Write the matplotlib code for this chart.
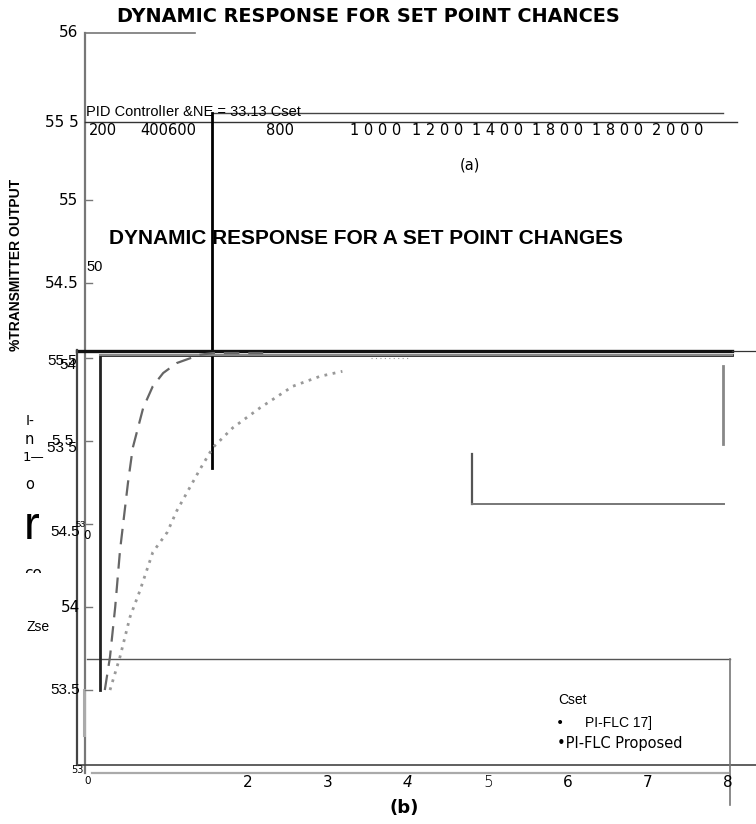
import numpy as np
import matplotlib.pyplot as plt
import matplotlib.transforms as mtransforms

# responses
cset_t = [0.15, 0.15, 8.05]
cset_y = [53.5, 55.52, 55.52]
flc17_t = [0.21, 0.275, 0.34, 0.40, 0.50, 0.56, 0.69, 0.81, 0.94, 1.11, 1.40, 1.56, 2.19]
flc17_y = [53.5, 53.70, 54.0, 54.34, 54.75, 54.96, 55.20, 55.33, 55.41, 55.47, 55.52, 55.53, 55.53]
prop_t = [0.275, 0.40, 0.525, 0.65, 0.81, 0.99, 1.11, 1.40, 1.56, 1.81, 2.15, 2.56, 2.90, 3.18]
prop_y = [53.5, 53.70, 53.94, 54.10, 54.33, 54.45, 54.58, 54.83, 54.96, 55.08, 55.20, 55.33, 55.39, 55.42]
tail_t = [3.54, 4.0]
tail_y = [55.50, 55.50]

b_xticks = [2, 3, 4, 5, 6, 7, 8]
b_xstyles = ['normal', 'normal', 'italic', 'normal', 'normal', 'normal', 'normal']
b_yticks = [53.5, 54.0, 54.5, 55.0, 55.5]
a_xlabels = ['200', '400600', '800', '1 0 0 0', '1 2 0 0', '1 4 0 0', '1 8 0 0', '1 8 0 0', '2 0 0 0']
a_xpos = [0.19, 1.0, 2.4, 3.6, 4.37, 5.12, 5.87, 6.62, 7.37]
a_ylabels = ['56', '55 5', '55', '54.5']
a_ypos = [57.46, 56.92, 56.45, 55.95]

fig = plt.figure(figsize=(7.56, 8.24), dpi=100)
ax = fig.add_axes([0, 0, 1, 1])
ax.set_xlim(-1.1, 8.35)
ax.set_ylim(52.693, 57.657)
ax.axis('off')

# frame pieces
ax.plot([-0.04, -0.04], [57.46, 53.0], color='#777777', lw=1.6)
ax.plot([-0.04, 1.34], [57.46, 57.46], color='#777777', lw=1.2)
ax.plot([-0.04, 8.11], [56.92, 56.92], color='#333333', lw=1.0)
ax.plot([1.55, 7.94], [56.976, 56.976], color='#444444', lw=1.0)
ax.plot([1.55, 1.55], [56.976, 54.84], color='black', lw=2.0)
ax.plot([-0.14, 8.05], [55.54, 55.54], color='#111111', lw=2.4)
ax.plot([8.05, 8.35], [55.54, 55.54], color='#333333', lw=0.9)
ax.plot([-0.1375, -0.1375], [55.55, 53.048], color='#444444', lw=1.6)
ax.plot([-0.1375, 8.35], [53.048, 53.048], color='#444444', lw=1.2)
ax.plot([0.05, 8.0], [53.0, 53.0], color='#aaaaaa', lw=1.6)
ax.plot([-0.01, 8.025], [53.69, 53.69], color='#555555', lw=1.0)
ax.plot([8.025, 8.025], [53.69, 52.81], color='#777777', lw=1.2)
ax.plot([7.94, 7.94], [55.45, 54.98], color='#888888', lw=2.0)
ax.plot([4.8, 4.8], [54.92, 54.62], color='#555555', lw=1.6)
ax.plot([4.8, 7.95], [54.62, 54.62], color='#777777', lw=1.4)
ax.plot([-0.05, -0.05], [53.5, 53.23], color='#aaaaaa', lw=2.2)
for y in b_yticks + a_ypos[2:]:
    ax.plot([-0.04, 0.05], [y, y], color='#777777', lw=1.0)

# curves
ax.plot(cset_t, cset_y, color='#222222', lw=2.0)
ax.plot([0.15, 8.05], [55.52, 55.52], color='#888888', lw=1.5)
ax.plot(flc17_t, flc17_y, color='#666666', lw=1.6, dashes=(7, 4))
ax.plot(prop_t, prop_y, color='#999999', lw=2.0, linestyle=(0, (1, 2)))
ax.plot(tail_t, tail_y, color='#999999', lw=0.8, linestyle=(0, (1, 3)))

# titles
ax.text(3.51, 57.56, 'DYNAMIC RESPONSE FOR SET POINT CHANCES', ha='center', va='center',
        fontsize=13.9, fontweight='bold', family='DejaVu Sans')
ax.text(3.47, 56.22, 'DYNAMIC RESPONSE FOR A SET POINT CHANGES', ha='center', va='center',
        fontsize=15, fontweight='bold', family='Liberation Sans')
ax.text(-0.9, 56.06, '%TRANSMITTER OUTPUT', rotation=90, ha='center', va='center',
        fontsize=10, fontweight='bold', family='Liberation Sans')

# panel (a) labels
for lab, y in zip(a_ylabels, a_ypos):
    ax.text(-0.12, y, lab, ha='right', va='center', fontsize=11, family='DejaVu Sans')
ax.text(-0.02, 56.05, '50', ha='left', va='center', fontsize=10.5, family='Liberation Sans')
ax.text(-0.02, 56.985, 'PID ControlIer &NE = 33.13 Cset', ha='left', va='center',
        fontsize=10.5, family='Liberation Sans', stretch='condensed')
for lab, x in zip(a_xlabels, a_xpos):
    ax.text(x, 56.87, lab, ha='center', va='center', fontsize=10.5, family='DejaVu Sans')
ax.text(4.78, 56.66, '(a)', ha='center', va='center', fontsize=10.5, family='DejaVu Sans')

# panel (b) labels
ax.text(-0.14, 55.48, '55.5', ha='right', va='center', fontsize=11, family='Liberation Sans')
ax.text(-0.15, 55.46, '54', ha='right', va='center', fontsize=11, family='Liberation Sans')
ax.text(-0.19, 55.0, '5 5', ha='right', va='center', fontsize=11, family='Liberation Sans')
ax.text(-0.14, 54.96, '53 5', ha='right', va='center', fontsize=11, family='Liberation Sans')
ax.text(-0.1, 54.45, '54.5', ha='right', va='center', fontsize=11, family='Liberation Sans')
ax.text(-0.15, 54.5, '53', ha='left', va='center', fontsize=6.5, family='Liberation Sans')
ax.text(-0.06, 54.43, '0', ha='left', va='center', fontsize=8.5, family='DejaVu Sans')
ax.text(-0.1, 54.0, '54', ha='right', va='center', fontsize=11, family='DejaVu Sans')
ax.text(-0.1, 53.5, '53.5', ha='right', va='center', fontsize=11, family='Liberation Sans')
ax.text(-0.05, 53.02, '53', ha='right', va='center', fontsize=7, family='DejaVu Sans')
ax.text(0.0, 52.955, '0', ha='center', va='center', fontsize=7.5, family='DejaVu Sans')
for x, st in zip(b_xticks, b_xstyles):
    wt = 'light' if x == 5 else 'normal'
    ax.text(x, 52.94, str(x), ha='center', va='center', fontsize=11, style=st,
            fontweight=wt, family='DejaVu Sans')
ax.text(3.95, 52.79, '(b)', ha='center', va='center', fontsize=13, fontweight='bold',
        family='DejaVu Sans')

# scanned leftovers on the left
ax.text(-0.73, 55.12, 'I-', ha='center', va='center', fontsize=10, family='DejaVu Sans')
ax.text(-0.73, 55.01, 'n', ha='center', va='center', fontsize=10.5, family='DejaVu Sans')
ax.text(-0.68, 54.9, '1\u2014', ha='center', va='center', fontsize=9.5, family='DejaVu Sans')
ax.text(-0.73, 54.74, 'o', ha='center', va='center', fontsize=10.5, family='DejaVu Sans')
ax.text(-0.71, 54.48, 'r', ha='center', va='center', fontsize=34, family='Liberation Sans')
co = ax.text(-0.69, 54.2, 'co', ha='center', va='center', fontsize=11, family='DejaVu Sans')
co.set_clip_on(True)
co.set_clip_box(ax.transData.transform_bbox(mtransforms.Bbox([[-1.0, 54.205], [-0.4, 54.3]])))
ax.text(-0.63, 53.88, 'Zse', ha='center', va='center', fontsize=10, family='Liberation Sans',
        stretch='condensed')

# legend text
ax.text(6.06, 53.44, 'Cset', ha='center', va='center', fontsize=10, family='Liberation Sans')
ax.text(5.9, 53.3, '\u2022', ha='center', va='center', fontsize=10, family='DejaVu Sans')
ax.text(6.21, 53.3, 'PI-FLC 17]', ha='left', va='center', fontsize=10, family='Liberation Sans')
ax.text(5.86, 53.18, '\u2022PI-FLC Proposed', ha='left', va='center', fontsize=10.5,
        family='DejaVu Sans')

fig.savefig('out.png', dpi=100)
